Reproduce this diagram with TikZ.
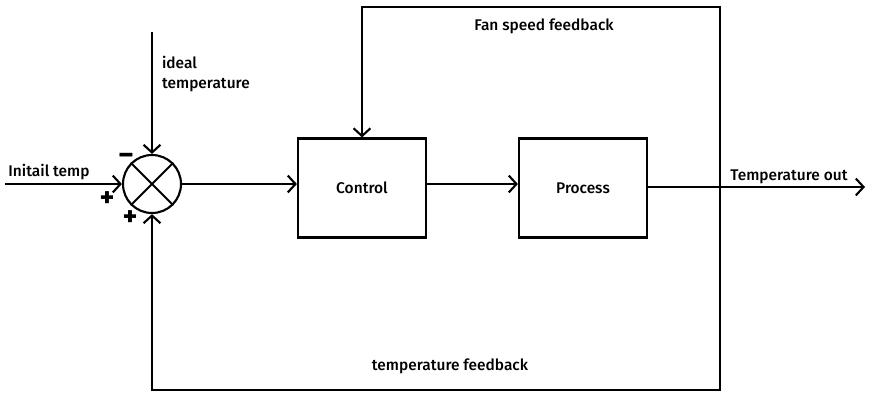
\documentclass[tikz,border=0pt]{standalone}
\usepackage{fontspec}
\setmainfont{Fira Sans}[UprightFont={* Medium}]
\usetikzlibrary{positioning, arrows.meta}

\tikzset{
  block/.style={draw, minimum width=3.2cm, minimum height=2.475cm},
  sumnode/.style={draw, circle, minimum size=1.45cm, inner sep=0pt},
  lbl/.style={font=\fontsize{11}{14}\selectfont, inner sep=0pt},
  sgn/.style={font=\fontsize{19}{19}\selectfont\bfseries, inner sep=0pt}
}

\begin{document}
\begin{tikzpicture}[x=0.025cm, y=-0.025cm, line width=1.5pt,
  >={Straight Barb[length=5.5pt, width=12pt]}]
\useasboundingbox (0,0) rectangle (872,395);

% blocks
\node[sumnode] (sum) at (152,184) {};
\draw (sum.45) -- (sum.225) (sum.135) -- (sum.-45);
\node[block, lbl] (ctrl) at (362,188) {Control};
\node[block, lbl] (proc) at (583,188) {Process};

% free ends
\coordinate (in) at (5,184);
\coordinate (ideal) at (152,32);
\coordinate (split) at (720,187);
\coordinate (out) at (865,187);
\coordinate (fantop) at (720,7);
\coordinate (fbbot) at (720,390);

% forward path
\draw[->] (in) -- (sum);
\draw[->] (ideal) -- (sum);
\draw[->] (sum) -- (ctrl.west |- sum);
\draw[->] (ctrl.east |- sum) -- (proc.west |- sum);
\draw[->] (proc.east |- split) -- (out);

% feedback loops
\draw[->] (split) -- (fantop) -| (ctrl.north);
\draw[->] (split) -- (fbbot) -| (sum.south);

% labels
\node[lbl] (lin) at (49,172) {Initail temp};
\node[lbl, anchor=west, align=left] (lideal) at (161,74) {ideal\\temperature};
\node[lbl] (lout) at (789,177) {Temperature out};
\node[lbl] (lfan) at (544,26) {Fan speed feedback};
\node[lbl] (lfb) at (450,366) {temperature feedback};
\node[sgn] (mneg) at (126,158) {--};
\node[sgn] (pin) at (107,199) {+};
\node[sgn] (pfb) at (130,218) {+};
\end{tikzpicture}
\end{document}
